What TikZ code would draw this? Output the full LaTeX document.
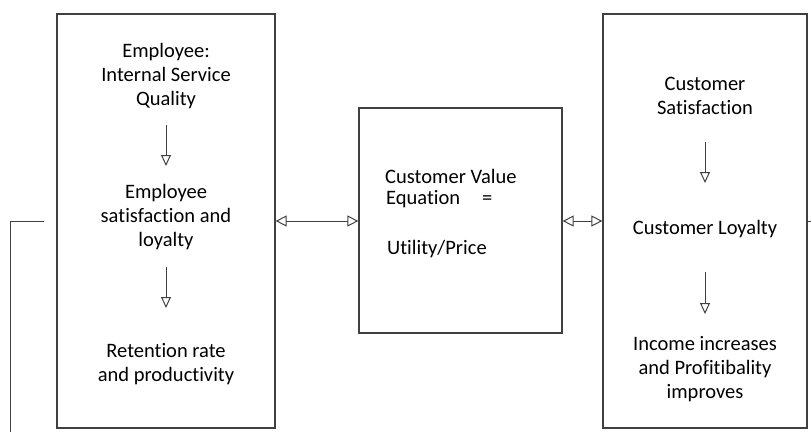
\documentclass[tikz,border=0pt]{standalone}
\usepackage{fontspec}
\setmainfont[Ligatures=NoCommon]{Carlito}
\usetikzlibrary{arrows.meta}
\definecolor{ln}{RGB}{64,64,64}
\tikzset{
  box/.style={draw=ln, line width=1.2pt, fill=white, inner sep=0pt},
  txt/.style={align=center, font=\fontsize{20.5}{24.4}\selectfont, inner sep=0pt},
  conn/.style={draw=ln, line width=1pt},
  dbl/.style={conn, {Triangle[open, length=11pt, width=11pt]}-{Triangle[open, length=11pt, width=11pt]}},
  down/.style={conn, -{Triangle[open, length=11pt, width=10pt]}}
}
\begin{document}
\begin{tikzpicture}[x=1pt,y=-1pt]
\useasboundingbox (0,0) rectangle (811,432);
% boxes
\node[box, minimum width=218pt, minimum height=414pt] (L) at (166,221) {};
\node[box, minimum width=203pt, minimum height=225pt] (M) at (460.5,220.5) {};
\node[box, minimum width=204pt, minimum height=414pt] (R) at (705,221) {};
% left box texts
\node[txt] (l1) at (166,76) {Employee:\\Internal Service\\Quality};
\node[txt] (l2) at (166,217) {Employee\\satisfaction and\\loyalty};
\node[txt] (l3) at (166,364) {Retention rate\\and productivity};
\coordinate (a1s) at (166,125); \coordinate (a1e) at (166,166);
\coordinate (a2s) at (166,267); \coordinate (a2e) at (166,308);
\draw[down] (a1s) -- (a1e);
\draw[down] (a2s) -- (a2e);
% middle texts
\node[txt, anchor=west] (m1) at (385,176) {Customer Value};
\node[txt, anchor=west] (m2) at (386,199) {Equation\hspace{22pt}=};
\node[txt, anchor=west] (m3) at (387,249) {Utility/Price};
% right box texts
\node[txt] (r1) at (705,96) {Customer\\Satisfaction};
\node[txt] (r2) at (705,229) {Customer Loyalty};
\node[txt] (r3) at (705,369) {Income increases\\and Profitibality\\improves};
\coordinate (b1s) at (705,142); \coordinate (b1e) at (705,183);
\coordinate (b2s) at (705,272); \coordinate (b2e) at (705,314);
\draw[down] (b1s) -- (b1e);
\draw[down] (b2s) -- (b2e);
% horizontal double arrows
\draw[dbl] (L.east) -- (M.west |- L.east);
\draw[dbl] (M.east |- R.west) -- (R.west);
% outer connectors
\coordinate (lo1) at (44,221);
\coordinate (lo2) at (10,221);
\coordinate (lo3) at (10,432);
\draw[conn] (lo1) -- (lo2) -- (lo3);
\coordinate (ro1) at (811,221);
\draw[conn] (R.east) -- (ro1);
\end{tikzpicture}
\end{document}
